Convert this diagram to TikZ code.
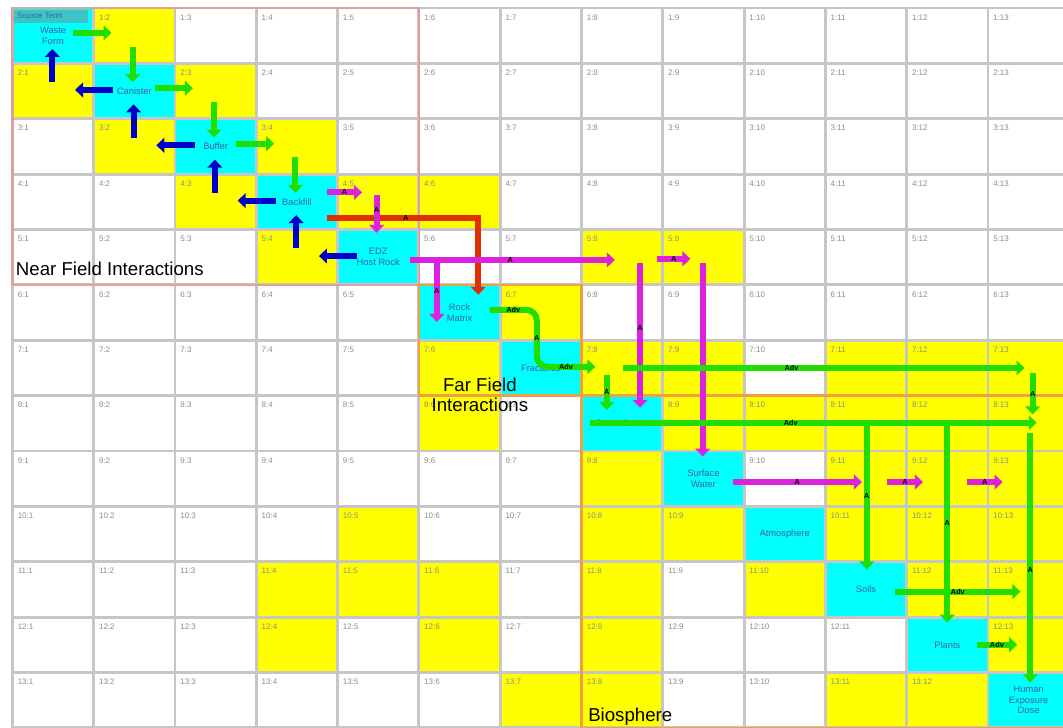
\documentclass[tikz,border=0pt]{standalone}
\usepackage{fontspec}
\setmainfont{Liberation Sans}
\usetikzlibrary{arrows.meta}

\definecolor{cellyel}{HTML}{FFFF00}
\definecolor{cellcyan}{HTML}{00FFFF}
\definecolor{titleteal}{HTML}{3CC4C4}
\definecolor{gridgrey}{HTML}{C6C6C6}
\definecolor{numgrey}{HTML}{8C8C8C}
\definecolor{namecol}{HTML}{3A5FA8}
\definecolor{flowgreen}{HTML}{22DD00}
\definecolor{flowblue}{HTML}{0000C8}
\definecolor{flowmag}{HTML}{DD22DD}
\definecolor{flowred}{HTML}{E03000}
\definecolor{nearpink}{HTML}{E0A0A0}
\definecolor{farorange}{HTML}{F0A040}

\begin{document}
\begin{tikzpicture}[x=61pt, y=-41.55pt, >={Triangle[length=6pt,width=11pt]},
  cell/.style={minimum width=61pt, minimum height=41.55pt, inner sep=0pt},
  cellno/.style={anchor=north west, inner sep=0pt, xshift=4pt, yshift=-5pt,
    font=\fontsize{6}{7}\selectfont, text=numgrey},
  cellname/.style={font=\fontsize{7}{8}\selectfont, text=namecol, align=center},
  gridline/.style={draw=gridgrey, line width=2.2pt},
  nearbox/.style={draw=nearpink, line width=1.6pt},
  farbox/.style={draw=farorange, line width=2pt},
  region/.style={font=\fontsize{14}{15}\selectfont, text=black, inner sep=0pt, align=center},
  flow/.style={->, line width=4.5pt},
  grnflow/.style={flow, draw=flowgreen},
  bluflow/.style={flow, draw=flowblue},
  magflow/.style={flow, draw=flowmag},
  redflow/.style={flow, draw=flowred},
  tag/.style={font=\fontsize{5.5}{6}\selectfont\bfseries, text=black, inner sep=0.5pt}]
\useasboundingbox (-0.153,-0.144) rectangle (12.923,12.996);
\fill[white] (-0.153,-0.144) rectangle (12.923,12.996);
% coloured cells
\foreach \r/\c in {1/2, 2/1, 2/3, 3/2, 3/4, 4/3, 4/5, 4/6, 5/4, 5/8, 5/9, 6/7,
    7/6, 7/8, 7/9, 7/11, 7/12, 7/13, 8/6, 8/9, 8/10, 8/11, 8/12, 8/13,
    9/8, 9/11, 9/12, 9/13, 10/5, 10/8, 10/9, 10/11, 10/12, 10/13,
    11/4, 11/5, 11/6, 11/8, 11/10, 11/12, 11/13, 12/4, 12/6, 12/8, 12/13,
    13/7, 13/8, 13/11, 13/12}
  \fill[cellyel] (\c-1,\r-1) rectangle (\c,\r);
\foreach \k in {1,...,13}
  \fill[cellcyan] (\k-1,\k-1) rectangle (\k,\k);
\fill[titleteal] (0.02,0.04) rectangle (0.93,0.27);
% grid
\foreach \i in {0,...,13} {
  \draw[gridline] (\i,0) -- (\i,13);
  \draw[gridline] (0,\i) -- (13,\i);
}
% interaction regions
\draw[nearbox] (0,0) rectangle (5,5);
\draw[farbox] (5,5) rectangle (7,7);
\draw[farbox] (7,7) rectangle (13,13);
% off-diagonal cells
\foreach \r in {1,...,13} {
  \foreach \c in {1,...,13} {
    \ifnum\r=\c\relax\else
      \node[cell] (m-\r-\c) at (\c-0.5,\r-0.5) {};
      \node[cellno] (n-\r-\c) at (m-\r-\c.north west) {\r:\c};
    \fi
  }
}
% diagonal components
\foreach \k/\nm in {1/{Waste\\Form}, 2/Canister, 3/Buffer, 4/Backfill,
    5/{EDZ\\Host Rock}, 6/{Rock\\Matrix}, 7/Fractures, 8/Groundwater,
    9/{Surface\\Water}, 10/Atmosphere, 11/Soils, 12/Plants,
    13/{Human\\Exposure\\Dose}}
  \node[cell, cellname] (m-\k-\k) at (\k-0.5,\k-0.5) {\nm};
\node[anchor=north west, inner sep=1pt, font=\fontsize{6}{6}\selectfont, text=namecol]
  (srctitle) at (0.04,0.06) {Source Term};
% labels
\node[region, anchor=base west] (nearlbl) at (0.04,4.83) {Near Field Interactions};
\node[region] (farlbl) at (5.75,6.98) {Far Field\\Interactions};
\node[region] (biolbl) at (7.6,12.8) {Biosphere};
% near field: forward (green) and feedback (blue)
\foreach \k [evaluate=\k as \kk using int(\k+1)] in {1,2,3} {
  \draw[grnflow] ([shift={(0.25,-0.05)}]m-\k-\k.center) -- ([shift={(-0.28,-0.05)}]m-\k-\kk.center);
  \draw[grnflow] ([shift={(-0.02,0.2)}]m-\k-\kk.center) -- ([shift={(-0.02,-0.16)}]m-\kk-\kk.center);
}
\foreach \k [evaluate=\k as \km using int(\k-1)] in {2,...,5} {
  \draw[bluflow] ([shift={(-0.26,-0.02)}]m-\k-\k.center) -- ([shift={(0.27,-0.02)}]m-\k-\km.center);
  \draw[bluflow] ([shift={(-0.01,-0.16)}]m-\k-\km.center) -- ([shift={(-0.01,0.24)}]m-\km-\km.center);
}
% transport out of the near field
\draw[magflow] ([shift={(0.37,-0.17)}]m-4-4.center) -- ([shift={(-0.2,-0.17)}]m-4-5.center)
  node[tag, midway] (t1) {A};
\draw[redflow] ([shift={(0.37,0.29)}]m-4-4.center) -| ([shift={(0.23,-0.32)}]m-6-6.center)
  node[tag, pos=0.26] (t2) {A};
\draw[magflow] ([shift={(-0.02,-0.12)}]m-4-5.center) -- ([shift={(-0.02,-0.44)}]m-5-5.center)
  node[tag, pos=0.4] (t3) {A};
\draw[magflow] ([shift={(0.39,0.05)}]m-5-5.center) -- ([shift={(-0.09,0.05)}]m-5-8.center)
  node[tag, pos=0.49] (t4) {A};
\draw[magflow] ([shift={(0.72,0.05)}]m-5-5.center) -- ([shift={(-0.28,0.17)}]m-6-6.center)
  node[tag, pos=0.5] (t5) {A};
\draw[magflow] ([shift={(0.43,0.03)}]m-5-8.center) -- ([shift={(-0.16,0.03)}]m-5-9.center)
  node[tag, midway] (t6) {A};
\draw[magflow] ([shift={(0.22,0.1)}]m-5-8.center) -- ([shift={(0.22,-0.28)}]m-8-8.center)
  node[tag, pos=0.45] (t7) {A};
\draw[magflow] ([shift={(-0.01,0.1)}]m-5-9.center) -- ([shift={(-0.01,-0.4)}]m-9-9.center)
  node[tag, pos=0.55] (t8) {A};
\draw[magflow] ([shift={(0.36,0.06)}]m-9-9.center) -- ([shift={(-0.05,0.06)}]m-9-11.center)
  node[tag, midway] (t9) {A};
\draw[magflow] ([shift={(0.26,0.06)}]m-9-11.center) -- ([shift={(-0.3,0.06)}]m-9-12.center)
  node[tag, midway] (t10) {A};
\draw[magflow] ([shift={(0.24,0.06)}]m-9-12.center) -- ([shift={(-0.32,0.06)}]m-9-13.center)
  node[tag, midway] (t11) {A};
% far field and biosphere (green)
\draw[grnflow, rounded corners=8pt] ([shift={(0.37,-0.05)}]m-6-6.center) -| ([shift={(-0.05,-0.02)}]m-7-7.center)
  node[tag, pos=0.25] (t12) {Adv} node[tag, pos=0.75] (t13) {A}
  -- ([shift={(-0.33,-0.02)}]m-7-8.center) node[tag, midway] (t14) {Adv};
\draw[grnflow] ([shift={(-0.19,0.12)}]m-7-8.center) -- ([shift={(-0.19,-0.24)}]m-8-8.center)
  node[tag, midway] (t15) {A};
\draw[grnflow] ([shift={(0.01,0)}]m-7-8.center) -- ([shift={(-0.05,0)}]m-7-13.center)
  node[tag, pos=0.42] (t16) {Adv};
\draw[grnflow] ([shift={(0.05,0.1)}]m-7-13.center) -- ([shift={(0.05,-0.16)}]m-8-13.center)
  node[tag, midway] (t17) {A};
\draw[grnflow] ([shift={(-0.4,-0.01)}]m-8-8.center) -- ([shift={(0.1,-0.01)}]m-8-13.center)
  node[tag, pos=0.45] (t18) {Adv};
\draw[grnflow] ([shift={(0.01,0)}]m-8-11.center) -- ([shift={(0.01,-0.36)}]m-11-11.center)
  node[tag, pos=0.5] (t19) {A};
\draw[grnflow] (m-8-12.center) -- ([shift={(0,-0.4)}]m-12-12.center)
  node[tag, pos=0.5] (t20) {A};
\draw[grnflow] ([shift={(0.02,0.17)}]m-8-13.center) -- ([shift={(0.02,-0.32)}]m-13-13.center)
  node[tag, pos=0.55] (t21) {A};
\draw[grnflow] ([shift={(0.36,0.04)}]m-11-11.center) -- ([shift={(-0.1,0.04)}]m-11-13.center)
  node[tag, pos=0.5] (t22) {Adv};
\draw[grnflow] ([shift={(0.36,0)}]m-12-12.center) -- ([shift={(-0.14,0)}]m-12-13.center)
  node[tag, midway] (t23) {Adv};
\end{tikzpicture}
\end{document}
